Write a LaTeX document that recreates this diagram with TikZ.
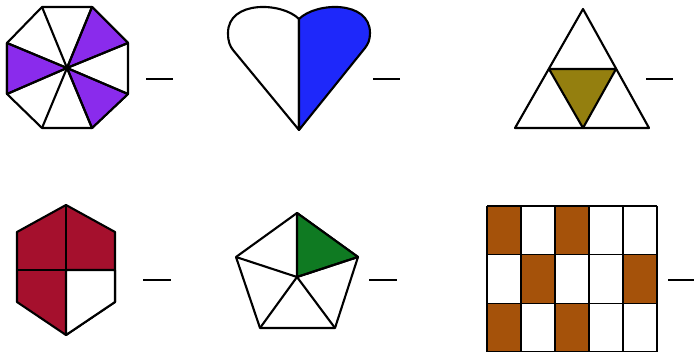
\documentclass[tikz,border=0pt]{standalone}
\definecolor{violeta}{RGB}{138,43,236}
\definecolor{azul}{RGB}{30,40,250}
\definecolor{oliva}{RGB}{148,127,15}
\definecolor{granate}{RGB}{165,16,45}
\definecolor{verde}{RGB}{15,122,34}
\definecolor{marron}{RGB}{165,82,10}
\begin{document}
\begin{tikzpicture}[x=0.025cm,y=-0.025cm,line width=1.5pt,line join=round,
  raya/.style={line width=1.5pt}]
\useasboundingbox (0,0) rectangle (694,352);
% octogono
\draw[fill=white] (42,7) -- (92,7) -- (128,43) -- (128,94) -- (92,128) -- (42,128) -- (7,94) -- (7,43) -- cycle;
\draw[fill=violeta] (67,68) -- (92,7) -- (128,43) -- cycle;
\draw[fill=violeta] (67,68) -- (7,43) -- (7,94) -- cycle;
\draw[fill=violeta] (67,68) -- (128,94) -- (92,128) -- cycle;
\foreach \p in {(42,7),(92,7),(128,43),(128,94),(92,128),(42,128),(7,94),(7,43)}
  \draw (67,68) -- \p;
\draw[raya] (146,79) -- (173,79);
% corazon
\draw[fill=white] (299,19) .. controls (282,2) and (228,0) .. (228,33)
  .. controls (228,42) and (230,46) .. (233,50) -- (299,130) -- cycle;
\draw[fill=azul] (299,19) .. controls (316,2) and (370,0) .. (370,33)
  .. controls (370,40) and (368,44) .. (365,48) -- (299,130) -- cycle;
\draw[raya] (373,79) -- (400,79);
% triangulo
\draw[fill=white] (583,9) -- (649,128) -- (515,128) -- cycle;
\draw[fill=oliva] (549,69) -- (616,69) -- (583,128) -- cycle;
\draw[raya] (646,79) -- (673,79);
% hexagono
\draw[fill=granate] (66,205) -- (115,232) -- (115,302) -- (66,335) -- (17,302) -- (17,232) -- cycle;
\draw[fill=white] (66,270) -- (115,270) -- (115,302) -- (66,335) -- cycle;
\draw (16,270) -- (116,270);
\draw (66,205) -- (66,335);
\draw[raya] (143,280) -- (171,280);
% pentagono
\draw[fill=white] (297,213) -- (358,257) -- (335,328) -- (260,328) -- (236,257) -- cycle;
\draw[fill=verde] (297,277) -- (297,213) -- (358,257) -- cycle;
\foreach \p in {(297,213),(358,257),(335,328),(260,328),(236,257)}
  \draw (297,277) -- \p;
\draw[raya] (369,280) -- (397,280);
% rejilla
\begin{scope}[line width=1.1pt]
\foreach \c/\f in {0/0,2/0,1/1,4/1,0/2,2/2}
  \fill[marron] (487+34*\c,206+48.7*\f) rectangle +(34,48.7);
\foreach \c in {0,...,5}
  \draw (487+34*\c,206) -- (487+34*\c,352);
\foreach \f in {0,...,3}
  \draw (487,206+48.7*\f) -- (657,206+48.7*\f);
\end{scope}
\draw[raya] (668,280) -- (694,280);
\end{tikzpicture}
\end{document}
